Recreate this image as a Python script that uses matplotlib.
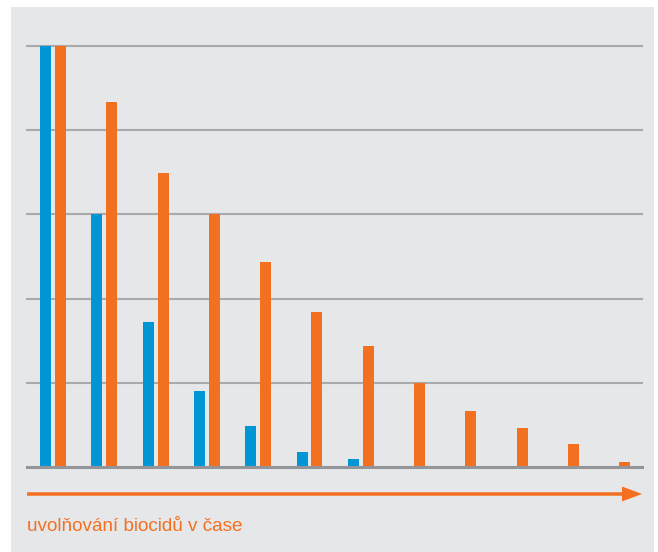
import matplotlib
matplotlib.use('Agg')
import matplotlib.pyplot as plt
import matplotlib.patches as mpatches
import numpy as np

# release over time, relative units (top grid line = 100)
blue_vals = [100, 60, 34.4, 18, 9.8, 3.6, 1.9]
orange_vals = [100, 86.7, 69.8, 60, 48.7, 36.8, 28.7, 20, 13.3, 9.3, 5.5, 1.2]
grid_levels = [20, 40, 60, 80, 100]
caption = 'uvolňování biocidů v čase'

BLUE = '#0096d6'
ORANGE = '#f37021'
PANEL = '#e6e7e8'

W, H = 658, 552
fig = plt.figure(figsize=(W / 100, H / 100), dpi=100)
fig.patch.set_facecolor('white')

# grey panel behind everything
fig.add_artist(mpatches.Rectangle((11 / W, 0), (654 - 11) / W, (H - 7) / H,
                                  transform=fig.transFigure, facecolor=PANEL,
                                  edgecolor='none', zorder=0))

ax = fig.add_axes([27 / W, (H - 467) / H, (642 - 27) / W, (467 - 46) / H])
ax.set_facecolor('none')
ax.set_zorder(1)

step = 51.3
ax.set_xlim(-(53 - 27) / step, 11 + (642 - 617.3) / step)
ax.set_ylim(0, 100)

for g in grid_levels:
    ax.axhline(g, color='#a8aaad', lw=1.5, zorder=1, clip_on=False)
ax.axhline(0, color='#939598', lw=2.2, zorder=3, clip_on=False)

w = 11 / step
off = 7.5 / step
xb = np.arange(len(blue_vals))
xo = np.arange(len(orange_vals))
ax.bar(xb - off, blue_vals, width=w, color=BLUE, zorder=2)
ax.bar(xo + off, orange_vals, width=w, color=ORANGE, zorder=2)

ax.set_xticks([])
ax.set_yticks([])
for s in ax.spines.values():
    s.set_visible(False)

# time arrow
ay = (H - 494) / 100
fig.add_artist(mpatches.FancyArrow(27 / 100, ay, (642 - 27) / 100, 0,
                                   width=3.5 / 100, head_width=15 / 100,
                                   head_length=20 / 100, length_includes_head=True,
                                   transform=fig.dpi_scale_trans,
                                   color=ORANGE, lw=0, zorder=2))

fig.text(27 / W, (H - 531) / H, caption, color=ORANGE, fontsize=13.6,
         family=['Liberation Sans', 'DejaVu Sans'], va='baseline', ha='left')

fig.savefig('out.png', dpi=100)
